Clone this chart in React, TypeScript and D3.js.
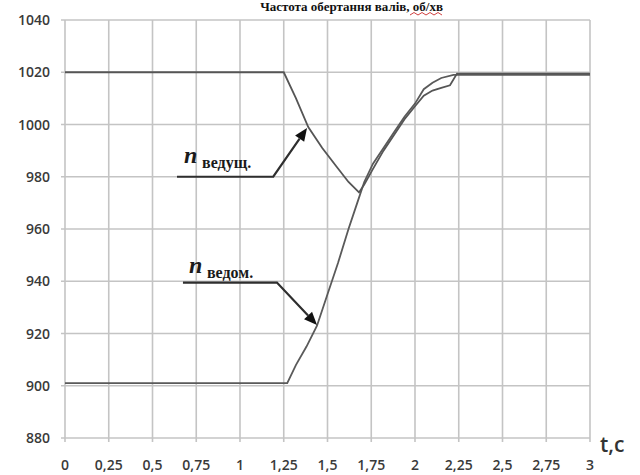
import React from "react";
import * as d3 from "d3";

// Time axis ticks (s) and speed axis ticks (rpm)
const timeTicks = [0, 0.25, 0.5, 0.75, 1, 1.25, 1.5, 1.75, 2, 2.25, 2.5, 2.75, 3];
const timeTickLabels = ["0", "0,25", "0,5", "0,75", "1", "1,25", "1,5", "1,75", "2", "2,25", "2,5", "2,75", "3"];
const speedTicks = [880, 900, 920, 940, 960, 980, 1000, 1020, 1040];

// Driving shaft speed
const driverT = [0, 1.25, 1.32, 1.39, 1.47, 1.55, 1.62, 1.68, 1.71, 1.76, 1.82, 1.88, 1.94, 2.0, 2.05, 2.1, 2.15, 2.2, 2.24, 3];
const driverN = [1020, 1020, 1010, 999, 991, 984, 978, 974, 977, 983, 990, 996, 1002, 1007, 1011, 1013, 1014, 1015, 1019.5, 1019.5];

// Driven shaft speed
const drivenT = [0, 1.27, 1.32, 1.38, 1.44, 1.5, 1.56, 1.62, 1.67, 1.71, 1.76, 1.82, 1.88, 1.94, 2.0, 2.05, 2.1, 2.15, 2.22, 3];
const drivenN = [901, 901, 908, 915, 923, 935, 947, 960, 970, 978, 985, 991, 997, 1003, 1008, 1013.5, 1016, 1017.8, 1019, 1019];

// Callout anchors: [label line start t, elbow t, level rpm, tip t, tip rpm]
const driverCallout = [0.64, 1.19, 980, 1.383, 998.7];
const drivenCallout = [0.674, 1.211, 939.5, 1.44, 923.3];

const W = 640;
const H = 475;

export default function App() {
  const x = d3.scaleLinear().domain([0, 3]).range([65, 590]);
  const y = d3.scaleLinear().domain([880, 1040]).range([438, 20]);

  const line = d3
    .line<[number, number]>()
    .x((d) => x(d[0]))
    .y((d) => y(d[1]));

  const driverPts = driverT.map((t, i) => [t, driverN[i]] as [number, number]);
  const drivenPts = drivenT.map((t, i) => [t, drivenN[i]] as [number, number]);

  const callout = (c: number[], key: string) => {
    const [t0, t1, lvl, tt, tn] = c;
    const x0 = x(t0);
    const x1 = x(t1);
    const yl = y(lvl);
    const xt = x(tt);
    const yt = y(tn);
    const ang = Math.atan2(yt - yl, xt - x1);
    const len = 13;
    const half = 5.5;
    const bx = xt - len * Math.cos(ang);
    const by = yt - len * Math.sin(ang);
    const px = -Math.sin(ang) * half;
    const py = Math.cos(ang) * half;
    return (
      <g key={key}>
        <path
          d={`M${x0},${yl}L${x1},${yl}L${bx},${by}`}
          fill="none"
          stroke="#2e2e2e"
          strokeWidth={2.2}
        />
        <path d={`M${xt},${yt}L${bx + px},${by + py}L${bx - px},${by - py}Z`} fill="#111" />
      </g>
    );
  };

  const squiggle = d3.range(0, 9).map((i) => `${410 + i * 4},${i % 2 === 0 ? 15 : 12.5}`).join(" ");

  return (
    <svg
      width={W}
      height={H}
      style={{ position: "absolute", left: 0, top: 0, background: "#fff" }}
    >
      {/* title */}
      <text
        x={443}
        y={11}
        textAnchor="end"
        fontFamily="'Liberation Serif', 'DejaVu Serif', serif"
        fontWeight="bold"
        fontSize={13}
        fill="#111"
      >
        Частота обертання валів, об/хв
      </text>
      <polyline points={squiggle} fill="none" stroke="#d04040" strokeWidth={1} />

      {/* grid */}
      <g stroke="#c4c4c4" strokeWidth={1.6}>
        {speedTicks.map((v) => (
          <line key={"h" + v} x1={x(0) - 4} x2={x(3)} y1={y(v)} y2={y(v)} />
        ))}
        {timeTicks.map((t) => (
          <line key={"v" + t} x1={x(t)} x2={x(t)} y1={y(1040)} y2={y(880) + 4} />
        ))}
      </g>

      {/* y tick labels */}
      <g
        fontFamily="'Open Sans', 'DejaVu Sans', sans-serif"
        fontSize={14}
        fill="#3a3a3a"
        textAnchor="end"
        fontWeight={600}
      >
        {speedTicks.map((v) => (
          <text key={"yl" + v} x={50} y={y(v) + 5}>
            {v}
          </text>
        ))}
      </g>

      {/* x tick labels */}
      <g
        fontFamily="'Open Sans', 'DejaVu Sans', sans-serif"
        fontSize={14}
        fill="#3a3a3a"
        textAnchor="middle"
        fontWeight={600}
      >
        {timeTicks.map((t, i) => (
          <text key={"xl" + t} x={x(t)} y={470}>
            {timeTickLabels[i]}
          </text>
        ))}
      </g>
      <text
        x={600}
        y={452}
        fontFamily="'Open Sans', 'DejaVu Sans', sans-serif"
        fontSize={21}
        fill="#333"
        fontWeight={600}
      >
        t,c
      </text>

      {/* speed curves */}
      <path d={line(drivenPts) || ""} fill="none" stroke="#5a5a5a" strokeWidth={1.8} />
      <path d={line(driverPts) || ""} fill="none" stroke="#555" strokeWidth={1.8} />

      {/* callouts */}
      {callout(driverCallout, "drv")}
      {callout(drivenCallout, "dvn")}

      <g fontFamily="'Liberation Serif', 'DejaVu Serif', serif" fontWeight="bold" fill="#1a1a1a">
        <text x={x(driverCallout[0]) + 7} y={y(driverCallout[2]) - 14} fontSize={24} fontStyle="italic">
          n
        </text>
        <text x={x(driverCallout[0]) + 25} y={y(driverCallout[2]) - 9} fontSize={16}>
          ведущ.
        </text>
        <text x={x(drivenCallout[0]) + 6} y={y(drivenCallout[2]) - 10} fontSize={24} fontStyle="italic">
          n
        </text>
        <text x={x(drivenCallout[0]) + 24} y={y(drivenCallout[2]) - 5} fontSize={16}>
          ведом.
        </text>
      </g>
    </svg>
  );
}
